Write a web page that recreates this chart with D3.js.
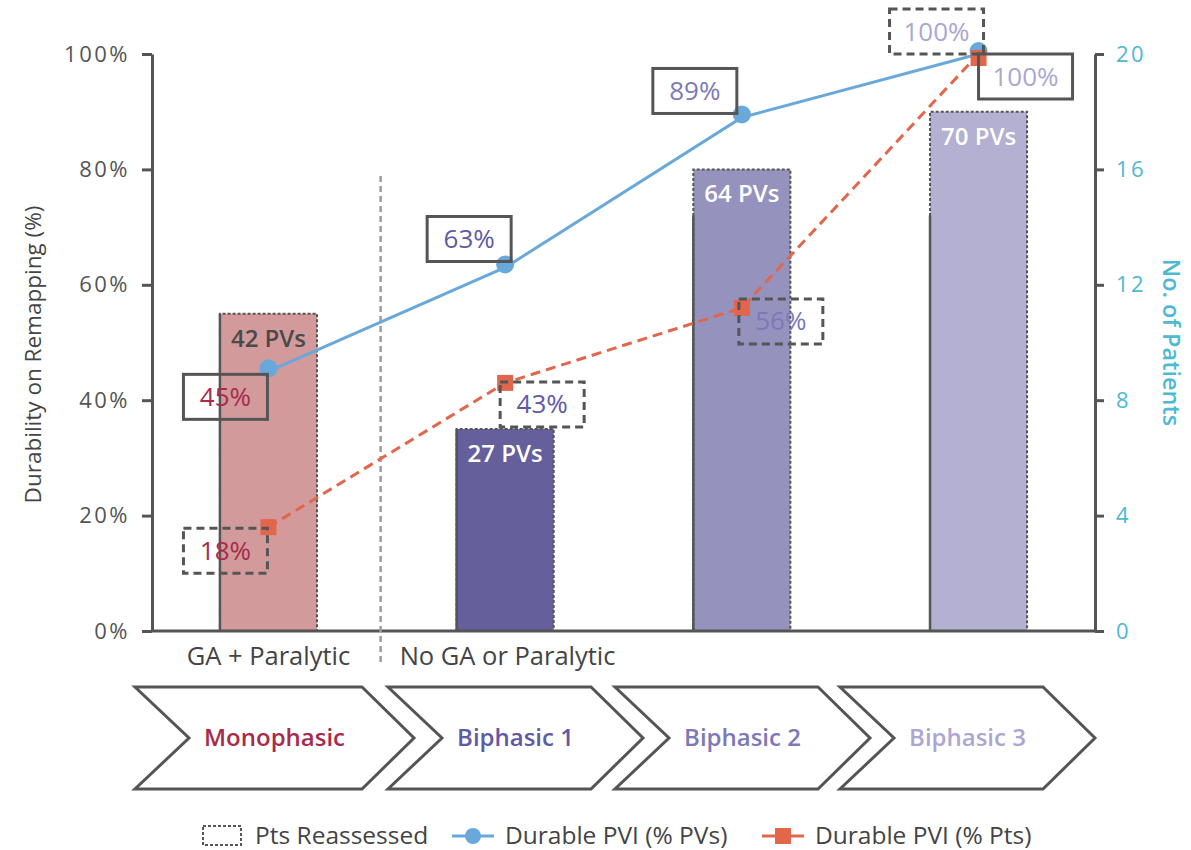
<!DOCTYPE html>
<html>
<head>
<meta charset="utf-8">
<script src="https://cdn.jsdelivr.net/npm/d3@7"></script>
<style>
  html, body { margin: 0; padding: 0; background: #fff; }
  svg { display: block; }
  text { font-family: "Open Sans", "Noto Sans", sans-serif; }
</style>
</head>
<body>
<svg id="chart" width="1191" height="850"></svg>
<script>
// ---- data ----
const categories = ["Monophasic", "Biphasic 1", "Biphasic 2", "Biphasic 3"];
const pvCounts = [42, 27, 64, 70];                 // PVs per group (bar labels)
const ptsReassessed = [11, 7, 16, 18];            // patients reassessed (dashed bar, right axis)
const ptsSolid = [11, 7, 14.4, 14.4];             // solid-edged portion of each bar (right axis)
const durablePVs = [45, 63, 89, 100];             // Durable PVI (% PVs)
const durablePts = [18, 43, 56, 100];             // Durable PVI (% Pts)
const groupLabels = ["GA + Paralytic", "No GA or Paralytic"];
const leftTicks = [0, 20, 40, 60, 80, 100];
const rightTicks = [0, 4, 8, 12, 16, 20];

// ---- styling ----
const barColors = ["#D29A9A", "#655F9B", "#9592BD", "#B3B0D1"];
const labelColors = ["#A82A4C", "#5F5AA5", "#7D79B6", "#ABA7D2"];
const barTextColors = ["#4A4A4A", "#FFFFFF", "#FFFFFF", "#FFFFFF"];
const axisColor = "#555555";
const blue = "#69A8DA";
const orange = "#E2664B";
const cyan = "#4DB9D3";

// box offsets (relative to the point) for the value callouts
const pvBoxPos = [{dx: -85, dy: 3}, {dx: -78, dy: -51}, {dx: -89, dy: -49}, {dx: 0, dy: 0}];
const ptBoxPos = [{dx: -85, dy: 1}, {dx: -5, dy: -1}, {dx: -3, dy: -9}, {dx: -89, dy: -45}];

const svg = d3.select("#chart");
const margin = {left: 152, right: 1095, top: 54, bottom: 631};

const x = d3.scaleBand().domain(categories)
  .range([margin.left, margin.right]).paddingInner(0.59).paddingOuter(0.287);
const y = d3.scaleLinear().domain([0, 100]).range([margin.bottom, margin.top]);
const yR = d3.scaleLinear().domain([0, 20]).range([margin.bottom, margin.top]);
const cx = c => x(c) + x.bandwidth() / 2;

// ---- bars ----
const bars = svg.append("g");
categories.forEach((c, i) => {
  const x0 = x(c), w = x.bandwidth();
  const yTop = yR(ptsReassessed[i]);
  bars.append("rect")
    .attr("x", x0).attr("y", yTop).attr("width", w).attr("height", yR(0) - yTop)
    .attr("fill", barColors[i]);
  // dashed outline of reassessed patients
  bars.append("path")
    .attr("d", `M${x0},${yR(0)}V${yTop}H${x0 + w}V${yR(0)}`)
    .attr("fill", "none").attr("stroke", axisColor).attr("stroke-width", 2)
    .attr("stroke-dasharray", "3,2");
  // solid left edge
  bars.append("line")
    .attr("x1", x0).attr("x2", x0).attr("y1", yR(0)).attr("y2", yR(ptsSolid[i]))
    .attr("stroke", axisColor).attr("stroke-width", 2.5);
  bars.append("text")
    .attr("x", x0 + w / 2).attr("y", yTop + 33)
    .attr("text-anchor", "middle").attr("font-size", 24).attr("font-weight", 600)
    .attr("fill", barTextColors[i])
    .text(pvCounts[i] + " PVs");
});

// ---- axes ----
const leftAxis = svg.append("g").attr("transform", `translate(${margin.left},0)`)
  .call(d3.axisLeft(y).tickValues(leftTicks).tickFormat(d => d + "%")
    .tickSize(10).tickSizeOuter(0).tickPadding(12));
const rightAxis = svg.append("g").attr("transform", `translate(${margin.right},0)`)
  .call(d3.axisRight(yR).tickValues(rightTicks).tickSize(9).tickSizeOuter(0).tickPadding(12));
[leftAxis, rightAxis].forEach(g => {
  g.select(".domain").attr("stroke", axisColor).attr("stroke-width", 3);
  g.selectAll(".tick line").attr("stroke", axisColor).attr("stroke-width", 3);
  g.selectAll(".tick text").attr("font-family", "DejaVu Sans, sans-serif")
    .attr("font-size", 22).attr("letter-spacing", 2.5);
});
leftAxis.selectAll(".tick text").attr("fill", "#555");
rightAxis.selectAll(".tick text").attr("fill", cyan);

svg.append("line")
  .attr("x1", margin.left).attr("x2", margin.right).attr("y1", y(0)).attr("y2", y(0))
  .attr("stroke", axisColor).attr("stroke-width", 3);

svg.append("text")
  .attr("transform", `translate(41,${(margin.top + margin.bottom) / 2 + 12}) rotate(-90)`)
  .attr("text-anchor", "middle").attr("font-size", 22.5).attr("font-weight", 500)
  .attr("fill", "#444").text("Durability on Remapping (%)");
svg.append("text")
  .attr("transform", `translate(1163,${(margin.top + margin.bottom) / 2}) rotate(90)`)
  .attr("text-anchor", "middle").attr("font-size", 23.5).attr("font-weight", 600)
  .attr("fill", cyan).text("No. of Patients");

// ---- group separator and labels ----
const sepX = x(categories[1]) - 76;
svg.append("line")
  .attr("x1", sepX).attr("x2", sepX).attr("y1", 176).attr("y2", 665)
  .attr("stroke", "#9C9C9C").attr("stroke-width", 2.5).attr("stroke-dasharray", "6,4");
svg.append("text").attr("x", cx(categories[0])).attr("y", 665)
  .attr("text-anchor", "middle").attr("font-size", 25.5).attr("fill", "#444")
  .text(groupLabels[0]);
svg.append("text").attr("x", sepX + 19).attr("y", 665)
  .attr("text-anchor", "start").attr("font-size", 25.5).attr("fill", "#444")
  .text(groupLabels[1]);

// ---- lines ----
const linePV = d3.line().x((d, i) => cx(categories[i])).y(d => y(d));
svg.append("path").datum(durablePts).attr("d", linePV)
  .attr("fill", "none").attr("stroke", orange).attr("stroke-width", 3)
  .attr("stroke-dasharray", "10,6");
svg.append("path").datum(durablePVs).attr("d", linePV)
  .attr("fill", "none").attr("stroke", blue).attr("stroke-width", 3);
svg.append("g").selectAll("circle").data(durablePVs).join("circle")
  .attr("cx", (d, i) => cx(categories[i])).attr("cy", d => y(d) - 3).attr("r", 9)
  .attr("fill", blue);
svg.append("g").selectAll("rect").data(durablePts).join("rect")
  .attr("x", (d, i) => cx(categories[i]) - 8).attr("y", d => y(d) - 8 + (d === 100 ? 4 : 0))
  .attr("width", 16).attr("height", 16).attr("fill", orange);

// ---- value callouts ----
function callout(vals, pos, dashed) {
  const g = svg.append("g");
  vals.forEach((v, i) => {
    const w = v === 100 ? 94 : 84, h = 45;
    const bx = cx(categories[i]) + pos[i].dx, by = y(v) + pos[i].dy;
    g.append("rect").attr("x", bx).attr("y", by).attr("width", w).attr("height", h)
      .attr("fill", "none").attr("stroke", axisColor).attr("stroke-width", 3)
      .attr("stroke-dasharray", dashed ? "8,5" : null);
    g.append("text").attr("x", bx + w / 2).attr("y", by + h / 2 + 9)
      .attr("text-anchor", "middle").attr("font-size", 26)
      .attr("fill", labelColors[i]).text(v + "%");
  });
}
callout(durablePVs, pvBoxPos, false);
callout(durablePts, ptBoxPos, true);

// ---- phase chevrons ----
const chevrons = [
  {x0: 135, xr: 362}, {x0: 388, xr: 591}, {x0: 615, xr: 818}, {x0: 840, xr: 1043}
];
const chTop = 687, chBot = 789, chMid = 738, notch = 54, tipLen = 52;
chevrons.forEach((c, i) => {
  svg.append("path")
    .attr("d", `M${c.x0},${chTop}L${c.xr},${chTop}L${c.xr + tipLen},${chMid}L${c.xr},${chBot}L${c.x0},${chBot}L${c.x0 + notch},${chMid}Z`)
    .attr("fill", "#fff").attr("stroke", axisColor).attr("stroke-width", 3)
    .attr("stroke-linejoin", "miter");
  svg.append("text")
    .attr("x", (c.x0 + c.xr + tipLen) / 2).attr("y", chMid + 8)
    .attr("text-anchor", "middle").attr("font-size", 24).attr("font-weight", 600)
    .attr("fill", labelColors[i]).text(categories[i]);
});

// ---- legend ----
const lg = svg.append("g").attr("font-size", 24.5).attr("fill", "#444");
lg.append("rect").attr("x", 203).attr("y", 826).attr("width", 38).attr("height", 19)
  .attr("fill", "none").attr("stroke", axisColor).attr("stroke-width", 2)
  .attr("stroke-dasharray", "3,2");
lg.append("text").attr("x", 255).attr("y", 844).attr("fill", "#444").text("Pts Reassessed");
lg.append("line").attr("x1", 452).attr("x2", 494).attr("y1", 836).attr("y2", 836)
  .attr("stroke", blue).attr("stroke-width", 3);
lg.append("circle").attr("cx", 473).attr("cy", 836).attr("r", 8).attr("fill", blue);
lg.append("text").attr("x", 505).attr("y", 844).attr("fill", "#444").text("Durable PVI (% PVs)");
lg.append("line").attr("x1", 762).attr("x2", 804).attr("y1", 836).attr("y2", 836)
  .attr("stroke", orange).attr("stroke-width", 3);
lg.append("rect").attr("x", 775).attr("y", 828).attr("width", 16).attr("height", 16).attr("fill", orange);
lg.append("text").attr("x", 815).attr("y", 844).attr("fill", "#444").text("Durable PVI (% Pts)");
</script>
</body>
</html>
